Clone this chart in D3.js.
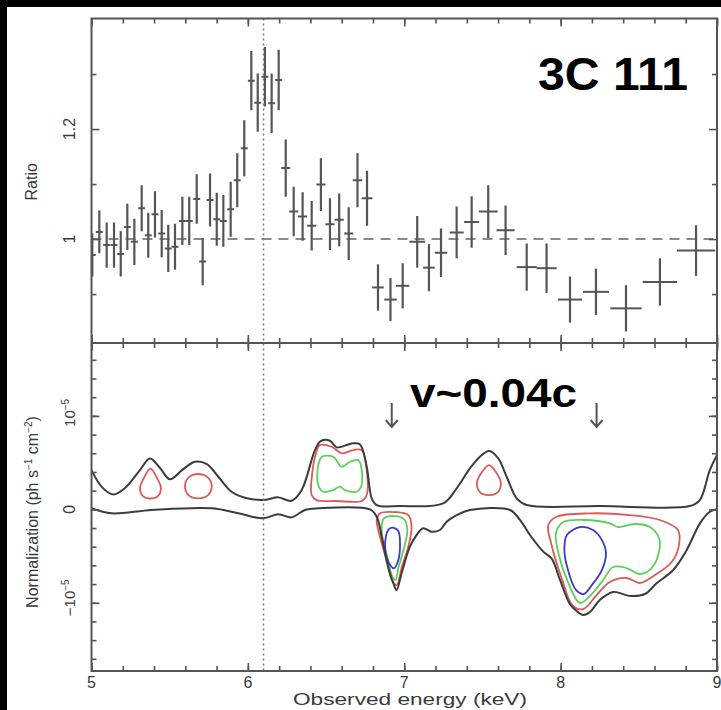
<!DOCTYPE html>
<html>
<head>
<meta charset="utf-8">
<script src="https://cdn.jsdelivr.net/npm/d3@7"></script>
<style>
  html, body { margin: 0; padding: 0; background: #000; }
  svg { display: block; }
</style>
</head>
<body>
<div id="chart"></div>
<script>
// ---- data ----
// top panel: ratio points (bin centre, half width, ratio, error)
const energy = [5.005, 5.050, 5.097, 5.144, 5.187, 5.229, 5.274, 5.321, 5.363, 5.406,
  5.449, 5.491, 5.534, 5.581, 5.625, 5.673, 5.711, 5.758, 5.801, 5.843,
  5.890, 5.932, 5.977, 6.022, 6.063, 6.109, 6.152, 6.197, 6.242, 6.293,
  6.350, 6.408, 6.467, 6.525, 6.584, 6.645, 6.701, 6.762, 6.832, 6.912,
  6.990, 7.083, 7.158, 7.235, 7.335, 7.431, 7.537, 7.648, 7.783, 7.910,
  8.060, 8.226, 8.418, 8.635, 8.866];
const energyHalf = [0.022, 0.022, 0.022, 0.022, 0.022, 0.022, 0.022, 0.022, 0.022, 0.022,
  0.022, 0.022, 0.022, 0.022, 0.022, 0.022, 0.022, 0.022, 0.022, 0.022,
  0.022, 0.022, 0.022, 0.022, 0.022, 0.022, 0.022, 0.022, 0.029, 0.029,
  0.029, 0.029, 0.029, 0.029, 0.029, 0.029, 0.030, 0.034, 0.037, 0.040,
  0.042, 0.050, 0.037, 0.040, 0.045, 0.048, 0.060, 0.058, 0.064, 0.064,
  0.077, 0.083, 0.100, 0.110, 0.123];
const ratio = [0.971, 1.013, 0.989, 0.989, 0.973, 1.022, 0.995, 1.056, 1.007, 1.045,
  1.010, 0.983, 0.986, 1.033, 1.033, 1.073, 0.959, 1.071, 1.036, 1.033,
  1.054, 1.107, 1.165, 1.288, 1.248, 1.295, 1.247, 1.289, 1.129, 1.050,
  1.041, 1.024, 1.099, 1.027, 1.035, 1.010, 1.107, 1.074, 0.912, 0.890,
  0.915, 0.995, 0.948, 0.975, 1.012, 1.031, 1.050, 1.016, 0.949, 0.947,
  0.890, 0.904, 0.874, 0.922, 0.979];
const ratioErr = [0.039, 0.039, 0.041, 0.041, 0.041, 0.042, 0.042, 0.042, 0.041, 0.042,
  0.043, 0.043, 0.042, 0.044, 0.044, 0.045, 0.043, 0.048, 0.048, 0.047,
  0.050, 0.049, 0.051, 0.054, 0.053, 0.054, 0.054, 0.055, 0.052, 0.045,
  0.044, 0.045, 0.048, 0.047, 0.048, 0.048, 0.049, 0.050, 0.042, 0.039,
  0.041, 0.047, 0.043, 0.044, 0.047, 0.047, 0.048, 0.045, 0.043, 0.045,
  0.042, 0.042, 0.042, 0.043, 0.046];

// bottom panel: [energy keV, normalization in units of 1e-5]
const upperEnvelope = [[5.000,0.420],[5.067,0.238],[5.139,0.160],[5.214,0.228],[5.310,0.420],
  [5.374,0.545],[5.438,0.442],[5.502,0.321],[5.579,0.420],[5.662,0.509],[5.738,0.484],
  [5.811,0.349],[5.896,0.188],[5.981,0.124],[6.098,0.099],[6.194,0.128],[6.280,0.092],
  [6.344,0.206],[6.429,0.634],[6.466,0.730],[6.525,0.734],[6.568,0.663],[6.632,0.688],
  [6.674,0.706],[6.717,0.695],[6.760,0.456],[6.792,0.118],[6.824,0.046],[6.973,0.035],
  [7.249,0.064],[7.335,0.225],[7.420,0.439],[7.484,0.563],[7.543,0.624],[7.601,0.545],
  [7.655,0.349],[7.719,0.118],[7.783,0.046],[8.251,0.035],[8.826,0.035],[8.890,0.099],
  [8.954,0.420],[9.000,0.580]];
const lowerEnvelope = [[5.000,0.011],[5.129,-0.043],[5.385,-0.007],[5.769,0.011],[5.939,-0.043],
  [6.098,-0.096],[6.194,-0.053],[6.280,-0.086],[6.365,-0.007],[6.450,0.011],[6.781,0.000],
  [6.824,-0.079],[6.856,-0.293],[6.891,-0.578],[6.930,-0.791],[6.951,-0.863],[6.983,-0.684],
  [7.036,-0.400],[7.079,-0.275],[7.121,-0.203],[7.175,-0.240],[7.228,-0.221],[7.271,-0.133],
  [7.335,-0.061],[7.420,-0.007],[7.676,-0.007],[7.740,-0.114],[7.804,-0.275],[7.889,-0.453],
  [7.942,-0.524],[7.996,-0.756],[8.059,-1.013],[8.102,-1.088],[8.145,-1.130],[8.187,-1.098],
  [8.251,-0.970],[8.336,-0.884],[8.443,-0.927],[8.539,-0.906],[8.614,-0.791],[8.720,-0.649],
  [8.806,-0.435],[8.891,-0.150],[8.954,-0.026],[9.000,0.000]];

const redContours = [
  [[5.377,0.436],[5.419,0.335],[5.444,0.228],[5.425,0.142],[5.377,0.116],[5.329,0.142],[5.310,0.228],[5.335,0.335]],
  [[5.683,0.378],[5.745,0.340],[5.769,0.249],[5.745,0.153],[5.683,0.118],[5.620,0.153],[5.598,0.249],[5.620,0.340]],
  [[6.461,0.688],[6.536,0.670],[6.600,0.599],[6.674,0.634],[6.728,0.634],[6.760,0.420],[6.760,0.153],
   [6.728,0.089],[6.568,0.089],[6.440,0.099],[6.408,0.153],[6.414,0.420],[6.435,0.599]],
  [[6.845,-0.043],[6.941,-0.029],[7.026,-0.061],[7.047,-0.186],[7.026,-0.400],[6.985,-0.614],
   [6.951,-0.810],[6.921,-0.756],[6.887,-0.542],[6.845,-0.293],[6.824,-0.114]],
  [[7.543,0.474],[7.586,0.399],[7.618,0.281],[7.599,0.185],[7.543,0.153],[7.484,0.185],[7.465,0.281],[7.497,0.399]],
  [[7.975,-0.079],[8.187,-0.043],[8.443,-0.061],[8.635,-0.114],[8.750,-0.221],[8.757,-0.382],
   [8.710,-0.564],[8.603,-0.703],[8.507,-0.788],[8.422,-0.735],[8.315,-0.778],[8.230,-0.917],
   [8.145,-1.067],[8.079,-1.034],[8.006,-0.735],[7.942,-0.382],[7.921,-0.168]]
];
const greenContours = [
  [[6.474,0.563],[6.545,0.563],[6.600,0.456],[6.653,0.509],[6.706,0.527],[6.728,0.420],[6.723,0.239],
   [6.696,0.188],[6.621,0.206],[6.589,0.242],[6.545,0.206],[6.482,0.188],[6.450,0.260],[6.450,0.474]],
  [[6.870,-0.096],[6.941,-0.072],[6.998,-0.104],[7.020,-0.221],[6.998,-0.414],[6.962,-0.628],
   [6.944,-0.756],[6.920,-0.703],[6.890,-0.499],[6.860,-0.293],[6.856,-0.168]],
  [[8.017,-0.136],[8.155,-0.114],[8.315,-0.150],[8.368,-0.189],[8.475,-0.157],[8.571,-0.189],
   [8.629,-0.307],[8.629,-0.457],[8.582,-0.628],[8.507,-0.692],[8.422,-0.628],[8.336,-0.617],
   [8.272,-0.756],[8.187,-0.927],[8.123,-1.002],[8.047,-0.778],[7.989,-0.489],[7.970,-0.254]]
];
const blueContours = [
  [[6.928,-0.195],[6.962,-0.232],[6.973,-0.382],[6.962,-0.542],[6.934,-0.631],[6.902,-0.574],
   [6.879,-0.435],[6.883,-0.286],[6.902,-0.211]],
  [[8.123,-0.190],[8.207,-0.222],[8.264,-0.329],[8.290,-0.468],[8.264,-0.650],[8.200,-0.810],
   [8.149,-0.906],[8.098,-0.863],[8.047,-0.650],[8.024,-0.436],[8.040,-0.275]]
];

const lineEnergy = 6.1;          // dotted reference line
const arrowEnergy = [6.92, 8.23];
const xTickValues = [5, 6, 7, 8, 9];
const xTickLabels = ["5", "6", "7", "8", "9"];
const ratioTickValues = [1, 1.2];
const ratioTickLabels = ["1", "1.2"];
const normTickValues = [-1, 0, 1];

// ---- layout ----
const W = 721, H = 710;
const pLeft = 91.5, pRight = 717, pTop = 18.5, pMid = 343, pBottom = 671;

const svg = d3.select("#chart").append("svg")
  .attr("width", W).attr("height", H)
  .style("font-family", "'Liberation Sans', Arial, sans-serif");

svg.append("rect").attr("width", W).attr("height", H).attr("fill", "#000");
svg.append("rect").attr("x", 7).attr("y", 7).attr("width", W - 7).attr("height", H - 7).attr("fill", "#fff");

const x = d3.scaleLinear().domain([5, 9]).range([pLeft, pRight]);
const yR = d3.scaleLinear().domain([0.811, 1.401]).range([pMid, pTop]);
const yN = d3.scaleLinear().domain([-1.73, 1.78]).range([pBottom, pMid]);

const defs = svg.append("defs");
defs.append("clipPath").attr("id", "clipTop").append("rect")
  .attr("x", pLeft).attr("y", pTop).attr("width", pRight - pLeft).attr("height", pMid - pTop);
defs.append("clipPath").attr("id", "clipBot").append("rect")
  .attr("x", pLeft).attr("y", pMid).attr("width", pRight - pLeft).attr("height", pBottom - pMid);

const gTop = svg.append("g").attr("clip-path", "url(#clipTop)");
const gBot = svg.append("g").attr("clip-path", "url(#clipBot)");

// dashed unity line
gTop.append("line")
  .attr("x1", pLeft).attr("x2", pRight)
  .attr("y1", yR(1)).attr("y2", yR(1))
  .attr("stroke", "#8a8a8a").attr("stroke-width", 2)
  .attr("stroke-dasharray", "10,7");

// ratio error bars
const pts = energy.map((e, i) => ({ e, dx: energyHalf[i], r: ratio[i], dr: ratioErr[i] }));
gTop.selectAll("line.xerr").data(pts).join("line")
  .attr("class", "xerr")
  .attr("x1", d => x(d.e - d.dx)).attr("x2", d => x(d.e + d.dx))
  .attr("y1", d => yR(d.r)).attr("y2", d => yR(d.r))
  .attr("stroke", "#555").attr("stroke-width", 2);
gTop.selectAll("line.yerr").data(pts).join("line")
  .attr("class", "yerr")
  .attr("x1", d => x(d.e)).attr("x2", d => x(d.e))
  .attr("y1", d => yR(d.r - d.dr)).attr("y2", d => yR(d.r + d.dr))
  .attr("stroke", "#555").attr("stroke-width", 2.2);

// contours
const closed = d3.line().x(d => x(d[0])).y(d => yN(d[1])).curve(d3.curveCatmullRomClosed.alpha(0.5));
const open = d3.line().x(d => x(d[0])).y(d => yN(d[1])).curve(d3.curveCatmullRom.alpha(0.5));

[[redContours, "#dc5a55"], [greenContours, "#5ccf5c"], [blueContours, "#3a3acb"]].forEach(([set, col]) => {
  gBot.selectAll(null).data(set).join("path")
    .attr("d", closed)
    .attr("fill", "none").attr("stroke", col).attr("stroke-width", 1.8);
});
gBot.selectAll(null).data([upperEnvelope, lowerEnvelope]).join("path")
  .attr("d", open)
  .attr("fill", "none").attr("stroke", "#3c3c3c").attr("stroke-width", 2);

// dotted vertical line through both panels
svg.append("line")
  .attr("x1", x(lineEnergy)).attr("x2", x(lineEnergy))
  .attr("y1", pTop).attr("y2", pBottom)
  .attr("stroke", "#777").attr("stroke-width", 1.5)
  .attr("stroke-dasharray", "2,3");

// arrows
svg.selectAll("path.arrow").data(arrowEnergy).join("path")
  .attr("class", "arrow")
  .attr("d", d => `M${x(d)},403 V427 M${x(d) - 6},420 L${x(d)},427 L${x(d) + 6},420`)
  .attr("fill", "none").attr("stroke", "#555").attr("stroke-width", 2);

// ---- ticks and frames ----
function styleAxis(g) {
  g.select(".domain").remove();
  g.selectAll("line").attr("stroke", "#555").attr("stroke-width", 1.6);
  g.selectAll("text").remove();
}
const xMinor = d3.range(5, 9.001, 0.2);
const rMinor = [0.9, 1.1, 1.3];
const nMinor = d3.range(-1.6, 1.61, 0.2);

function xTicks(y, dir) {
  // dir: +1 ticks go down, -1 ticks go up
  const gen = () => (dir > 0 ? d3.axisTop(x) : d3.axisBottom(x));
  svg.append("g").attr("transform", `translate(0,${y})`)
    .call(gen().tickValues(xMinor).tickSize(-5).tickFormat("")).call(styleAxis);
  svg.append("g").attr("transform", `translate(0,${y})`)
    .call(gen().tickValues(xTickValues).tickSize(-8).tickFormat("")).call(styleAxis);
}
xTicks(pTop, 1);
xTicks(pMid, -1);
xTicks(pMid, 1);
xTicks(pBottom, -1);

function yTicks(scale, major, minor) {
  [[d3.axisLeft, pLeft], [d3.axisRight, pRight]].forEach(([gen, xp]) => {
    svg.append("g").attr("transform", `translate(${xp},0)`)
      .call(gen(scale).tickValues(minor).tickSize(-5).tickFormat("")).call(styleAxis);
    svg.append("g").attr("transform", `translate(${xp},0)`)
      .call(gen(scale).tickValues(major).tickSize(-8).tickFormat("")).call(styleAxis);
  });
}
yTicks(yR, ratioTickValues, rMinor);
yTicks(yN, normTickValues, nMinor);

svg.append("rect")
  .attr("x", pLeft).attr("y", pTop).attr("width", pRight - pLeft).attr("height", pBottom - pTop)
  .attr("fill", "none").attr("stroke", "#555").attr("stroke-width", 2);
svg.append("line")
  .attr("x1", pLeft).attr("x2", pRight).attr("y1", pMid).attr("y2", pMid)
  .attr("stroke", "#555").attr("stroke-width", 2);

// ---- labels ----
const ink = "#3a3a3a";
svg.selectAll("text.xt").data(xTickValues).join("text")
  .attr("class", "xt")
  .attr("x", d => x(d)).attr("y", 688)
  .attr("text-anchor", "middle")
  .attr("font-size", 16).attr("fill", ink)
  .text((d, i) => xTickLabels[i]);

svg.append("text")
  .attr("x", 410).attr("y", 705)
  .attr("text-anchor", "middle")
  .attr("font-size", 16).attr("fill", ink)
  .attr("textLength", 234).attr("lengthAdjust", "spacingAndGlyphs")
  .text("Observed energy (keV)");

function vText(xp, yp, size) {
  return svg.append("text")
    .attr("transform", `translate(${xp},${yp}) rotate(-90)`)
    .attr("text-anchor", "middle")
    .attr("font-size", size).attr("fill", ink);
}

ratioTickValues.forEach((v, i) => vText(75, yR(v), 16).text(ratioTickLabels[i]));
vText(37, yR(1.104), 16).text("Ratio");

vText(75, yN(0), 16).text("0");
const up = vText(75, yN(1) - 3, 15);
up.append("tspan").text("10");
up.append("tspan").attr("dy", -6).attr("font-size", 10).text("−5");
const dn = vText(75, yN(-1) - 5, 15);
dn.append("tspan").text("−10");
dn.append("tspan").attr("dy", -6).attr("font-size", 10).text("−5");

const nl = vText(38, 512, 16);
nl.append("tspan").text("Normalization (ph s");
nl.append("tspan").attr("dy", -6).attr("font-size", 10).text("−1");
nl.append("tspan").attr("dy", 6).text(" cm");
nl.append("tspan").attr("dy", -6).attr("font-size", 10).text("−2");
nl.append("tspan").attr("dy", 6).text(")");

// annotations
svg.append("text")
  .attr("x", 538).attr("y", 90)
  .attr("font-size", 46).attr("font-weight", "bold").attr("fill", "#000")
  .attr("textLength", 150).attr("lengthAdjust", "spacingAndGlyphs")
  .text("3C 111");
svg.append("text")
  .attr("x", 410).attr("y", 407)
  .attr("font-size", 40).attr("font-weight", "bold").attr("fill", "#000")
  .attr("textLength", 167).attr("lengthAdjust", "spacingAndGlyphs")
  .text("v~0.04c");
</script>
</body>
</html>
